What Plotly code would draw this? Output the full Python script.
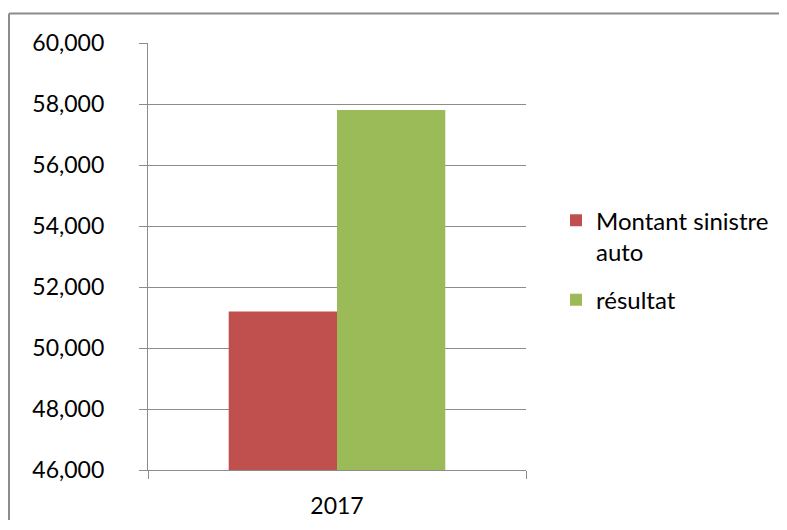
import plotly.graph_objects as go

categories = ["2017"]
series_names = ["Montant sinistre<br>auto", "résultat"]
montant = [51200]
resultat = [57800]
colors = ["#C0504D", "#9BBB59"]
y_ticks = [46000, 48000, 50000, 52000, 54000, 56000, 58000, 60000]

# page has an 8px body margin; keep the figure inside the 787x530 window
W, H = 779, 512
L, T = 140, 34.5
plot_right, plot_bottom = 518, 462.3
R, B = W - plot_right, H - plot_bottom
pw, ph = W - L - R, H - T - B

fig = go.Figure()
for i, (name, vals, col) in enumerate(zip(series_names, [montant, resultat], colors)):
    fig.add_trace(go.Bar(x=categories, y=vals, name=name, marker_color=col,
                         marker_line_width=0, legendgroup="g%d" % i))

font = dict(family="Lato, 'Open Sans', sans-serif", size=23, color="#000000")

fig.update_layout(
    width=W, height=H,
    margin=dict(l=L, r=R, t=T, b=B, pad=0, autoexpand=False),
    paper_bgcolor="white", plot_bgcolor="white",
    barmode="group", bargap=0.427, bargroupgap=0,
    font=font,
    showlegend=True,
    legend=dict(x=(548 - L) / pw, y=1 - (190 - T) / ph, xanchor="left", yanchor="top",
                valign="top", font=dict(size=24), itemwidth=30,
                tracegroupgap=14, bgcolor="rgba(0,0,0,0)"),
    yaxis=dict(range=[46000, 60000], tickvals=y_ticks, tickformat=",d",
               showgrid=True, gridcolor="#8c8c8c", gridwidth=1.3,
               showline=True, linecolor="#8c8c8c", linewidth=1.3,
               ticks="outside", ticklen=8, tickcolor="#8c8c8c", tickwidth=1.3,
               ticklabelstandoff=30, zeroline=False),
    xaxis=dict(type="category", showline=True, linecolor="#8c8c8c", linewidth=1.3,
               ticks="outside", ticklen=8, tickcolor="#8c8c8c", tickwidth=1.3,
               tickson="boundaries", showgrid=False, ticklabelstandoff=15),
)

# outer chart border: left and top edges only (right/bottom are cropped in the reference)
bx = (1 - L) / pw
by = 1 + (T - 5) / ph
fig.add_shape(type="line", xref="paper", yref="paper", x0=bx, x1=bx, y0=by, y1=-(B + 5) / ph,
              line=dict(color="#8c8c8c", width=2), layer="below")
fig.add_shape(type="line", xref="paper", yref="paper", x0=bx, x1=(W - 2 - L) / pw, y0=by, y1=by,
              line=dict(color="#8c8c8c", width=2), layer="below")

fig.write_html("out.html")
